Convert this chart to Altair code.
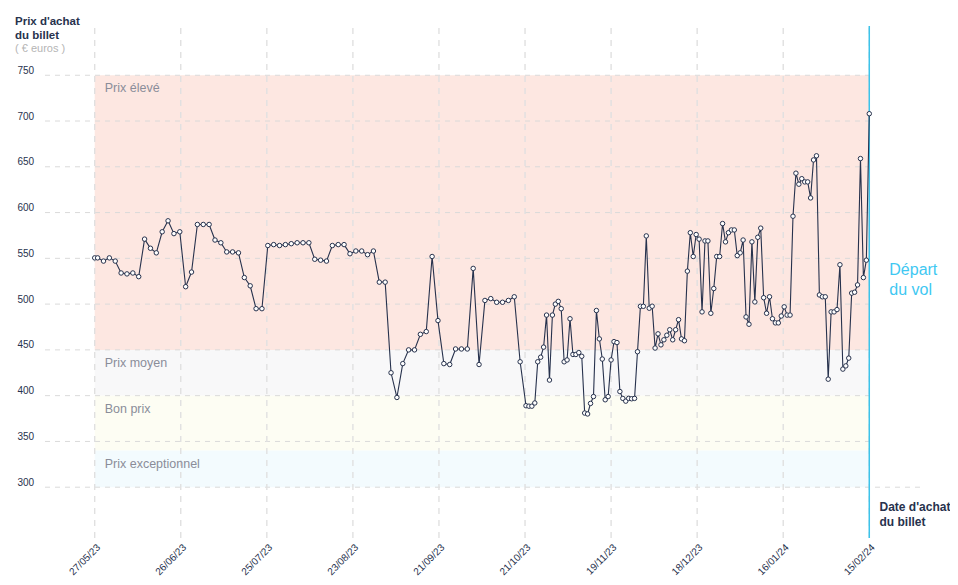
import json
import altair as alt
import pandas as pd

# ---------------- data ----------------
# day offsets from 27/05/23 (every 2 days first, then daily)
days = [
    0, 1, 3, 5, 7, 9, 11, 13, 15, 17, 19, 21, 23, 25, 27, 29, 31, 33, 35, 37,
    39, 41, 43, 45, 47, 49, 51, 53, 55, 57, 59, 61, 63, 65, 67, 69, 71, 73, 75, 77,
    79, 81, 83, 85, 87, 89, 91, 93, 95, 97, 99, 101, 103, 105, 107, 109, 111, 113, 115, 117,
    119, 121, 123, 125, 127, 129, 131, 133, 135, 137, 139, 141, 143, 145, 147,
    148, 149, 150, 151, 152, 153, 154, 155, 156, 157,
    158, 159, 160, 161, 162, 163, 164, 165, 166, 167,
    168, 169, 170, 171, 172, 173, 174, 175, 176, 177,
    178, 179, 180, 181, 182, 183, 184, 185, 186, 187,
    188, 189, 190, 191, 192, 193, 194, 195, 196, 197,
    198, 199, 200, 201, 202, 203, 204, 205, 206, 207,
    208, 209, 210, 211, 212, 213, 214, 215, 216, 217,
    218, 219, 220, 221, 222, 223, 224, 225, 226, 227,
    228, 229, 230, 231, 232, 233, 234, 235, 236, 237,
    238, 239, 240, 241, 242, 243, 244, 245, 246, 247,
    248, 249, 250, 251, 252, 253, 254, 255, 256, 257,
    258, 259, 260, 261, 262, 263, 264,
]
prices = [
    550.5, 550.5, 547, 550.5, 547, 534, 533, 534, 530, 571, 561, 556, 579, 591, 577, 579,
    519, 535, 587, 587, 587, 570, 567,
    557, 557, 556, 529, 520, 495, 495, 564, 565, 564, 565, 566, 567, 567, 567, 549, 548,
    547, 564, 565, 565, 555,
    558, 558, 554, 558, 524, 524, 425, 398, 435, 450, 450, 467, 470, 552, 482, 435, 434,
    451, 451, 451, 539, 434, 504, 506, 502, 502, 504, 508, 437, 389,
    388.5, 388.5, 392, 437, 442, 453, 488, 417, 488, 500, 503, 495, 437, 439, 484, 445,
    445, 447, 443, 381, 380, 391.5, 399, 493, 462, 440, 395.5, 399, 439, 459, 458, 404.5,
    397, 394, 397, 396.6, 397, 448, 497.6, 497.6,
    574.5, 495.5, 497.7, 452, 467.5, 455.5, 461, 466, 472, 461, 472, 483, 462, 460, 536,
    578, 552, 576, 571, 491.5, 569, 569, 490, 517, 552, 552, 588, 568, 578, 581, 581, 553,
    556, 570, 486, 478, 568,
    502.4, 573, 583, 507, 490, 508, 484, 479.5, 479.5, 487, 497, 488, 488, 596, 643, 631,
    637, 633.5, 633.5, 616, 657.5, 662, 510, 508, 508, 418, 491.5, 491.5, 494, 543, 429,
    432.5, 441, 512, 513, 521, 659, 529, 548, 708,
]
tick_days = [0, 29.333, 58.667, 88, 117.333, 146.667, 176, 205.333, 234.667, 264]
tick_labels = ["27/05/23", "26/06/23", "25/07/23", "23/08/23", "21/09/23",
               "21/10/23", "19/11/23", "18/12/23", "16/01/24", "15/02/24"]
y_ticks = [300, 350, 400, 450, 500, 550, 600, 650, 700, 750]
band_names = ["Prix élevé", "Prix moyen", "Bon prix", "Prix exceptionnel"]
band_low = [450, 400, 340, 300]
band_high = [750, 450, 400, 340]
band_colors = ["#fde7e1", "#f8f8f9", "#fdfdf3", "#f3fbfe"]
departure_day = 264
departure_text = "Départ\ndu vol"
departure_y = 546

X_DOMAIN = [-16.94, 281.97]
Y_DOMAIN = [244.5, 803.8]

FONT = "Liberation Sans"
NAVY = "#27324d"

# ---------------- tables ----------------
series = pd.DataFrame({"day": days, "price": prices})
bands = pd.DataFrame({
    "name": band_names, "lo": band_low, "hi": band_high, "color": band_colors,
    "x0": days[0], "x1": days[-1],
})
hgrid = pd.DataFrame({
    "y": y_ticks,
    "x0": X_DOMAIN[0],
    "x1": [X_DOMAIN[1] if v == y_ticks[0] else departure_day for v in y_ticks],
})
vgrid = pd.DataFrame({"day": tick_days, "ylo": Y_DOMAIN[0], "yhi": Y_DOMAIN[1]})
depart = pd.DataFrame({"day": [departure_day], "ylo": [Y_DOMAIN[0]], "yhi": [Y_DOMAIN[1]],
                       "ty": [departure_y], "label": [departure_text]})

xscale = alt.Scale(domain=X_DOMAIN, nice=False, zero=False)
yscale = alt.Scale(domain=Y_DOMAIN, nice=False, zero=False)

label_expr = f"{json.dumps(tick_labels)}[indexof({json.dumps(tick_days)}, datum.value)]"

x_axis = alt.Axis(
    values=tick_days, labelExpr=label_expr, labelAngle=-45, labelAlign="right",
    labelBaseline="top", grid=False, ticks=False, tickSize=0, domain=False,
    labelFontSize=10, labelColor=NAVY, labelFont=FONT, labelPadding=4,
    title=["Date d'achat", "du billet"], titleX=834, titleY=-37, titleAlign="left",
    titleBaseline="top", titleFontSize=12, titleFontWeight="bold", titleColor=NAVY,
    titleFont=FONT, titleLineHeight=15,
)
y_axis = alt.Axis(
    values=y_ticks, grid=False, ticks=False, tickSize=0, domain=False,
    labelAlign="left", labelPadding=28, labelBaseline="alphabetic", labelOffset=-2,
    labelFontSize=10, labelColor=NAVY, labelFont=FONT, title=None,
)

band_layer = alt.Chart(bands).mark_rect().encode(
    x=alt.X("x0:Q", scale=xscale, axis=x_axis), x2="x1:Q",
    y=alt.Y("lo:Q", scale=yscale, axis=y_axis), y2="hi:Q",
    color=alt.Color("color:N", scale=None, legend=None),
)
band_text = alt.Chart(bands).mark_text(
    align="left", baseline="middle", dx=10, dy=13, fontSize=12.5, font=FONT, color="#8a8d99",
).encode(x="x0:Q", y="hi:Q", text="name:N")

hgrid_layer = alt.Chart(hgrid).mark_rule(
    color="#dadada", strokeWidth=1, strokeDash=[5, 5]
).encode(x="x0:Q", x2="x1:Q", y="y:Q")

vgrid_layer = alt.Chart(vgrid).mark_rule(
    color="#e0e0e0", strokeWidth=1.4, strokeDash=[6, 6]
).encode(x="day:Q", y="ylo:Q", y2="yhi:Q")

depart_rule = alt.Chart(depart).mark_rule(color="#3cc3ea", strokeWidth=1.5).encode(
    x="day:Q", y="ylo:Q", y2="yhi:Q")
depart_text = alt.Chart(depart).mark_text(
    align="left", baseline="top", dx=20, fontSize=16, font=FONT, color="#3fc8f2",
    lineBreak="\n", lineHeight=20,
).encode(x="day:Q", y="ty:Q", text="label:N")

line = alt.Chart(series).mark_line(color=NAVY, strokeWidth=1.1).encode(
    x="day:Q", y="price:Q",
)
points = alt.Chart(series).mark_point(
    filled=True, fill="white", stroke=NAVY, strokeWidth=1, size=20, opacity=1,
).encode(x="day:Q", y="price:Q")

chart = alt.layer(
    band_layer, hgrid_layer, vgrid_layer, band_text, depart_rule, line, points, depart_text
).properties(
    width=877, height=512,
    autosize=alt.AutoSizeParams(type="none"),
    padding={"left": 37, "top": 18, "right": 28, "bottom": 38},
    title=alt.TitleParams(
        text=["Prix d'achat", "du billet"], subtitle="( € euros )", anchor="start",
        frame="group", dx=-30, dy=29, offset=0, fontSize=11.5, fontWeight="bold",
        color=NAVY, font=FONT, lineHeight=14, subtitleFont=FONT, subtitleFontSize=11,
        subtitleColor="#b5b5b5", subtitlePadding=2,
    ),
).configure_view(stroke=None)

chart.save("out.html", embed_options={"renderer": "svg", "actions": False})
